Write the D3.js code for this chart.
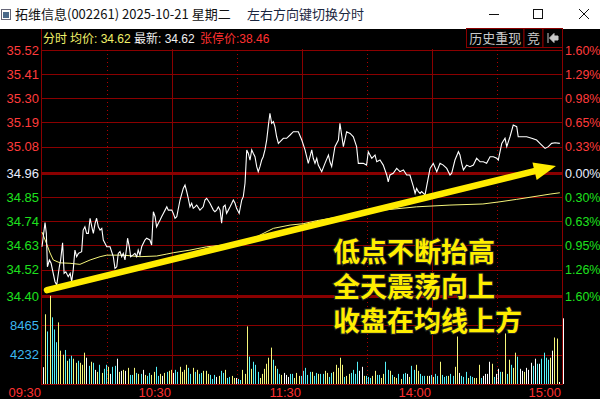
<!DOCTYPE html>
<html lang="zh-CN">
<head>
<meta charset="UTF-8">
<title>拓维信息 分时</title>
<style>
body { margin: 0; background: #000; }
#chart svg { display: block; font-family: "Liberation Sans", Arial, "Noto Sans CJK SC", sans-serif; }
</style>
<script src="https://d3js.org/d3.v7.min.js"></script>
</head>
<body>
<div id="chart"></div>
<script>
// ---- data ----
const prevClose = 34.96;
const priceTicks = [35.52, 35.41, 35.30, 35.19, 35.08, 34.96, 34.85, 34.74, 34.63, 34.52, 34.40];
const pctLabels = ["1.60%", "1.29%", "0.98%", "0.65%", "0.33%", "0.00%", "0.30%", "0.63%", "0.95%", "1.26%", "1.60%"];
const volTicks = [4232, 8465];
const volMax = 12697;
const timeTicks = [0, 60, 120, 180, 240];
const timeLabels = ["09:30", "10:30", "11:30", "14:00", "15:00"];
const solidMinutes = [60, 120, 180];
const dottedMinutes = [30, 90, 150, 210];

// price line (minute index, price)
const priceTime = [0,1.4,2,2.5,3.4,4.2,6,6.8,8,8.6,9.5,10.2,11,12.1,13,13.7,14.4,15.2,16,16.8,18.3,19,19.8,20.6,21.4,22.2,23,23.7,24.5,25.2,26,26.8,27.6,28.3,29.9,31.4,32.9,33.7,34.5,35.2,36,36.8,37.5,38.3,39.1,39.5,40.3,40.9,41.9,42.9,43.7,44.4,45.2,46,47.5,48.3,49.8,50.6,51.4,52.2,52.9,53.7,54.5,55.2,56,56.8,57.6,58.3,59.9,60.6,61.4,62.2,63.7,65.2,66,66.8,67.5,68.3,69.1,69.8,70.6,71.4,72.9,74.4,75.2,76,77.5,79.1,79.8,80.6,81.4,82.2,82.9,83.7,84.5,85.2,86,86.8,87.6,88.3,89.1,89.8,91,92.2,92.9,93.7,94.5,95.2,96,96.8,97.5,98.3,99.1,99.8,100.6,101.4,102.1,102.9,103.7,104.5,105.2,106,106.8,107.5,108.3,109.1,109.8,111.4,112.9,114.5,116,118.3,119.9,121.4,122.9,124.5,125.2,126,126.8,127.5,129.1,130.6,132.2,132.9,133.7,135.2,136.8,137.5,139.1,140.6,142.2,143.7,145.2,146,148.3,149.8,150.6,152.2,153.7,154.5,156,157.5,159.1,159.8,160.6,162.1,163.7,165.2,166.8,168.3,169.8,171.4,172.2,172.9,173.7,174.5,175.2,176.8,177.5,179.1,180.6,182.2,183.7,185.2,186.8,188.3,189.1,190.6,192.2,192.9,193.7,194.5,196,197.5,199.1,200.6,202.2,203.7,205.2,206.8,208.3,209.9,210.6,212.2,213.7,214.5,216,217.5,219.1,219.8,221.4,223.7,226,228.3,229.8,232.2,233.7,235.2,236.8,239];
const priceValue = [34.624,34.734,34.685,34.533,34.564,34.549,34.465,34.450,34.533,34.564,34.642,34.503,34.510,34.488,34.503,34.465,34.518,34.609,34.579,34.594,34.602,34.700,34.715,34.685,34.685,34.754,34.715,34.685,34.731,34.754,34.715,34.700,34.708,34.655,34.624,34.624,34.579,34.526,34.533,34.594,34.602,34.579,34.594,34.564,34.624,34.663,34.624,34.579,34.586,34.594,34.579,34.609,34.586,34.624,34.655,34.663,34.655,34.632,34.784,34.761,34.715,34.731,34.746,34.761,34.776,34.791,34.806,34.791,34.791,34.776,34.754,34.761,34.837,34.890,34.905,34.875,34.845,34.806,34.822,34.799,34.806,34.814,34.791,34.806,34.837,34.845,34.822,34.791,34.784,34.791,34.806,34.791,34.731,34.806,34.814,34.776,34.791,34.806,34.822,34.837,34.822,34.799,34.776,34.837,34.852,34.913,35.065,35.050,35.019,35.065,35.050,35.034,34.989,34.966,34.989,35.019,35.034,35.065,35.110,35.178,35.232,35.186,35.194,35.171,35.125,35.095,35.102,35.118,35.118,35.133,35.148,35.148,35.110,35.065,35.004,35.065,35.027,35.004,35.027,34.996,34.966,35.004,35.042,35.011,34.989,35.080,35.110,35.186,35.080,35.148,35.140,35.125,35.080,35.004,35.004,34.996,35.057,35.027,35.042,35.011,35.019,34.996,34.951,34.920,34.951,34.959,34.981,34.966,34.974,34.951,34.951,34.898,34.867,34.890,34.875,34.867,34.875,34.860,34.898,34.981,35.004,34.966,35.004,34.996,34.981,34.951,34.959,35.019,35.057,35.042,35.004,34.974,34.996,34.989,34.996,35.027,35.011,35.011,35.004,35.034,35.034,35.027,35.019,35.095,35.118,35.080,35.125,35.178,35.171,35.125,35.125,35.125,35.118,35.110,35.095,35.072,35.080,35.095,35.098,35.095];

// average price line
const avgTime = [0,2,3.7,5.2,8.3,12.9,17.5,22.2,26.8,29.9,37.5,45.2,52.9,57.6,60.6,68.3,76,83.7,91.4,99.1,106.8,114.5,120.5,126.8,142.2,157.4,172.9,188.3,203.5,211.4,219.1,234.5,239];
const avgValue = [34.691,34.641,34.596,34.564,34.551,34.549,34.544,34.564,34.579,34.586,34.586,34.579,34.582,34.591,34.597,34.609,34.624,34.632,34.647,34.670,34.708,34.723,34.729,34.743,34.769,34.791,34.806,34.814,34.819,34.829,34.840,34.864,34.870];

// per-minute volume, and direction (U up / D down / F flat)
const volumes = [
  2430,10060,7580,12730,9620,7870,6030,8890,4810,4230,4910,3350,3650,4080,3650,3060,3350,3060,2770,4520,
  3790,2620,3210,3060,2040,1750,2770,1600,2190,2770,2480,1460,2480,2620,3650,1750,1900,2040,1900,2330,
  1310,1310,2330,1600,1460,1460,2040,1310,1170,1600,1310,1750,2480,1170,1460,1170,1600,1750,1900,2040,1600,
  2040,1750,2480,1750,2040,2770,2330,1460,2330,1750,2040,1460,1600,1900,1900,1460,1310,730,1310,1020,
  1170,1900,1600,2040,870,1020,1170,870,870,730,580,2040,1460,8310,3940,2190,3210,2770,1750,870,
  1460,2190,2920,3790,5250,3500,2620,2190,1460,1310,1600,1310,1020,1460,1460,870,1600,1170,
  1170,1900,2330,1310,1750,1750,1170,1600,1460,1460,1460,1900,1600,1020,1600,1750,2770,2330,3790,2770,
  1020,1170,1460,1600,2040,1460,3210,1900,2480,1170,1170,1020,870,1170,1900,1310,1310,870,1460,3210,
  2040,1900,1310,1020,870,1460,730,1460,1600,1460,1020,2620,2040,2770,1900,1460,1170,1170,1170,1170,1310,
  1020,1460,1170,3210,1310,1020,1170,1170,1460,1170,2480,6850,1600,1170,1020,1750,870,1170,1020,870,
  870,2770,870,1170,1460,1460,3210,2920,1020,1460,2190,1750,1750,7290,1460,3500,2770,2330,4520,3940,
  2190,1900,1750,2330,2040,3060,2620,3650,2920,2920,3650,4520,3790,3500,3790,4810,6710,6560,290,0,9480
];
const volDirs = (
  "FUDUDDDUUU" + "DUDDUUDUUU" + "FDUDFUDUDD" + "UFDDFUFUFU" + "DDUDUDFUDD" + "UUDDUFUDUU" + "F" +
  "DDUUUUDDUD" + "UDDUUUDDDF" + "UDDUDDUUFD" + "DUUUDUDDDU" + "UUUUUDUDDU" + "FFFDDUUU" +
  "DDDDDUDDUD" + "DUUDDUUUUU" + "DUUDDDDFFU" + "DDDUUDDUUD" + "DUDUUDUDDF" + "UDDUUDDDUF" + "D" +
  "UDDUDDDUDD" + "UUFDDDUDDU" + "UUDFFFFUDF" + "FDUUDUDUUD" + "FFUFFFDFDF" + "DDDDUFUUFF" + "F"
).split("");

// annotation arrow in data terms
const arrowFrom = {t: 2.3, p: 34.427};
const arrowTo = {t: 237.2, p: 34.992};
const noteLines = ["低点不断抬高", "全天震荡向上", "收盘在均线上方"];

// ---- drawing ----
const W = 600, H = 399;
const gridColor = "#8a0000";
const upColor = "#ff3b3b", downColor = "#1ee01e", flatColor = "#e8eeff";
const volColors = {U: "#f6f67a", D: "#54f0f8", F: "#ffffff"};

const svg = d3.select("#chart").append("svg")
    .attr("width", W).attr("height", H);

svg.append("rect").attr("width", W).attr("height", H).attr("fill", "#000");

// window title bar
svg.append("rect").attr("width", W).attr("height", 29).attr("fill", "#fff");
svg.append("rect").attr("x", 1.5).attr("y", 9.5).attr("width", 9).attr("height", 10)
    .attr("fill", "#fff").attr("stroke", "#667").attr("stroke-width", 1);
svg.append("rect").attr("x", 3).attr("y", 12).attr("width", 6).attr("height", 6).attr("fill", "#4a6a8a");
svg.append("text").attr("x", 15).attr("y", 19).attr("font-size", 13)
    .attr("font-family", "'Noto Sans CJK SC', sans-serif").attr("fill", "#111")
    .text("拓维信息(002261) 2025-10-21 星期二");
svg.append("text").attr("x", 247).attr("y", 19).attr("font-size", 13)
    .attr("font-family", "'Noto Sans CJK SC', sans-serif").attr("fill", "#1a2640")
    .text("左右方向键切换分时");
svg.append("line").attr("x1", 489).attr("x2", 499).attr("y1", 14.5).attr("y2", 14.5)
    .attr("stroke", "#111").attr("stroke-width", 1);
svg.append("rect").attr("x", 533.5).attr("y", 9.5).attr("width", 9).attr("height", 9)
    .attr("fill", "none").attr("stroke", "#111").attr("stroke-width", 1);
svg.append("path").attr("d", "M579,9L589,19M589,9L579,19")
    .attr("stroke", "#111").attr("stroke-width", 1);

// scales
const x = d3.scaleLinear().domain([0, 240]).range([42, 562]);
const y = d3.scaleLinear().domain([34.40, 35.52]).range([296, 50]);
const yv = d3.scaleLinear().domain([0, volMax]).range([384, 296]);

const grid = svg.append("g");

// horizontal price grid
grid.selectAll("line.h").data(priceTicks).join("line")
    .attr("x1", 41).attr("x2", 562)
    .attr("y1", d => Math.round(y(d)) + 0.5).attr("y2", d => Math.round(y(d)) + 0.5)
    .attr("stroke", gridColor)
    .attr("stroke-width", (d, i) => (d === prevClose || i === priceTicks.length - 1) ? 3 : 1);

// volume grid
grid.selectAll("line.v").data(volTicks.concat([0])).join("line")
    .attr("x1", 41).attr("x2", 562)
    .attr("y1", d => Math.round(yv(d)) + 0.5).attr("y2", d => Math.round(yv(d)) + 0.5)
    .attr("stroke", gridColor).attr("stroke-width", 1);

// vertical grid
grid.selectAll("line.solid").data(solidMinutes).join("line")
    .attr("x1", d => Math.round(x(d)) + 0.5).attr("x2", d => Math.round(x(d)) + 0.5)
    .attr("y1", 49).attr("y2", 384)
    .attr("stroke", gridColor).attr("stroke-width", 1);
grid.selectAll("line.dot").data(dottedMinutes).join("line")
    .attr("x1", d => Math.round(x(d)) + 0.5).attr("x2", d => Math.round(x(d)) + 0.5)
    .attr("y1", 50).attr("y2", 384)
    .attr("stroke", "#b00000").attr("stroke-width", 1).attr("stroke-dasharray", "1,3");

// frame
grid.append("line").attr("x1", 41.5).attr("x2", 41.5).attr("y1", 29).attr("y2", 385)
    .attr("stroke", gridColor);
grid.append("line").attr("x1", 562.5).attr("x2", 562.5).attr("y1", 29).attr("y2", 385)
    .attr("stroke", gridColor);

// header buttons
const btns = [{x: 466.5, w: 57.5, label: "历史重现"}, {x: 524, w: 19, label: "竞"}, {x: 543, w: 19.5, label: ""}];
btns.forEach(b => {
    svg.append("rect").attr("x", b.x).attr("y", 28.5).attr("width", b.w).attr("height", 19)
        .attr("fill", "#000").attr("stroke", gridColor).attr("stroke-width", 1);
    svg.append("text").attr("x", b.x + b.w / 2).attr("y", 43).attr("text-anchor", "middle")
        .attr("font-size", 13).attr("font-family", "'Noto Sans CJK SC', sans-serif")
        .attr("fill", "#c8c8c8").text(b.label);
});
svg.append("path").attr("d", "M548,33V43M549.5,38L554,33.5V36H558V40H554V42.5Z")
    .attr("stroke", "#c8c8c8").attr("fill", "#c8c8c8").attr("stroke-width", 1);

// header info text
const info = [
    {x: 43, text: "分时", fill: "#f2f26a"},
    {x: 70, text: "均价: 34.62", fill: "#f2f26a"},
    {x: 134, text: "最新: 34.62", fill: "#f0f0f0"},
    {x: 200, text: "张停价:38.46", fill: "#ff3030"}
];
svg.selectAll("text.info").data(info).join("text")
    .attr("x", d => d.x).attr("y", 43).attr("font-size", 12)
    .attr("font-family", "'Liberation Sans', 'Noto Sans CJK SC', sans-serif")
    .attr("fill", d => d.fill).text(d => d.text);

// axis labels
const colorFor = d => d > prevClose ? upColor : (d < prevClose ? downColor : flatColor);
svg.selectAll("text.pl").data(priceTicks).join("text")
    .attr("x", 39).attr("y", d => y(d)).attr("dy", "0.36em")
    .attr("text-anchor", "end").attr("font-size", 13)
    .attr("fill", colorFor).text(d => d.toFixed(2));
svg.selectAll("text.pr").data(priceTicks).join("text")
    .attr("x", 565).attr("y", d => y(d)).attr("dy", "0.36em")
    .attr("font-size", 12.5)
    .attr("fill", colorFor).text((d, i) => pctLabels[i]);
svg.selectAll("text.vl").data(volTicks).join("text")
    .attr("x", 39).attr("y", d => yv(d)).attr("dy", "0.36em")
    .attr("text-anchor", "end").attr("font-size", 13)
    .attr("fill", "#3cb8f0").text(d => d);
svg.selectAll("text.tl").data(timeTicks).join("text")
    .attr("x", d => x(d) - 1).attr("y", 397)
    .attr("text-anchor", "end").attr("font-size", 13)
    .attr("fill", "#ff3030").text((d, i) => timeLabels[i]);

// volume bars
svg.append("g").selectAll("rect").data(volumes).join("rect")
    .attr("x", (d, i) => Math.round(x(i)) + 1)
    .attr("y", d => yv(d))
    .attr("width", 1)
    .attr("height", d => 384 - yv(d))
    .attr("fill", (d, i) => volColors[volDirs[i]] || "#fff");

// avg and price lines
const avgPts = avgTime.map((t, i) => [t, avgValue[i]]);
const pricePts = priceTime.map((t, i) => [t, priceValue[i]]);
const line = d3.line().x(d => x(d[0])).y(d => y(d[1]));
svg.append("path").datum(avgPts).attr("d", line)
    .attr("fill", "none").attr("stroke", "#f4f47a").attr("stroke-width", 1);
svg.append("path").datum(pricePts).attr("d", line)
    .attr("fill", "none").attr("stroke", "#ffffff").attr("stroke-width", 1.1);

// annotation arrow
const ax0 = x(arrowFrom.t), ay0 = y(arrowFrom.p);
const ax1 = x(arrowTo.t), ay1 = y(arrowTo.p);
const ang = Math.atan2(ay1 - ay0, ax1 - ax0);
const headLen = 22, headHalf = 9;
const bx = ax1 - headLen * Math.cos(ang), by = ay1 - headLen * Math.sin(ang);
const nx = -Math.sin(ang), ny = Math.cos(ang);
const arrowColor = "#ffec00";
svg.append("line").attr("x1", ax0).attr("y1", ay0).attr("x2", bx + 2 * Math.cos(ang)).attr("y2", by + 2 * Math.sin(ang))
    .attr("stroke", arrowColor).attr("stroke-width", 6.5).attr("stroke-linecap", "round");
svg.append("path")
    .attr("d", `M${ax1},${ay1}L${bx + nx * headHalf},${by + ny * headHalf}L${bx - nx * headHalf},${by - ny * headHalf}Z`)
    .attr("fill", arrowColor);

// annotation text
svg.selectAll("text.note").data(noteLines).join("text")
    .attr("x", 333).attr("y", (d, i) => 262 + i * 34.5)
    .attr("font-size", 27).attr("font-weight", "bold")
    .attr("font-family", "'Noto Sans CJK SC', sans-serif")
    .attr("fill", "#ffee00").attr("stroke", "#222").attr("stroke-width", 2)
    .attr("paint-order", "stroke")
    .text(d => d);
</script>
</body>
</html>
